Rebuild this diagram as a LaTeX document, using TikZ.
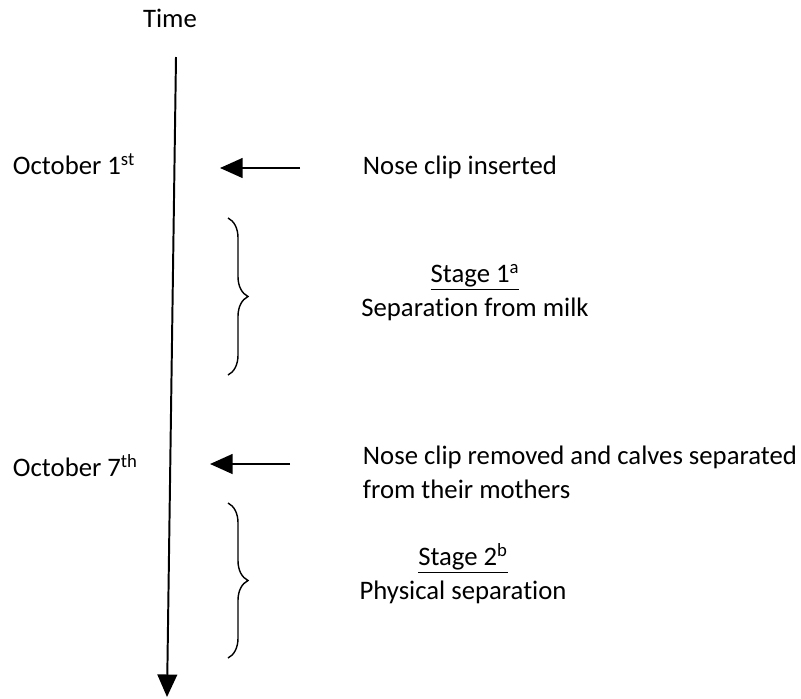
\documentclass[tikz,border=0pt]{standalone}
\usepackage{fontspec}
\setmainfont{Carlito}[Ligatures=NoCommon]
\usetikzlibrary{arrows.meta,positioning,decorations.pathreplacing}

\begin{document}
\begin{tikzpicture}[->,>={Triangle[length=16pt,width=14pt]},x=0.025cm,y=-0.025cm,line width=1.4pt,
    every node/.style={inner sep=0pt,font=\fontsize{19}{23.8}\selectfont},
    brc/.style={-,line width=1pt,decorate,decoration={brace,amplitude=0.5cm}}]
      \useasboundingbox (0,0) rectangle (801,698);
      \node (T) [anchor=base] at (170,27) {Time};
      \node (O1) [anchor=base west] at (12,174) {October 1\textsuperscript{st}};
      \node (O7) [anchor=base west] at (12,476) {October 7\textsuperscript{th}};
      \node (N1) [anchor=base west] at (362,174) {Nose clip inserted};
      \node (N7) [anchor=base west,align=left] at (362,498) {Nose clip removed and calves separated\\from their mothers};
      \node (S1) [anchor=base,align=center] at (475,316) {\underline{Stage 1\textsuperscript{a}}\\Separation from milk};
      \node (S2) [anchor=base,align=center] at (463,599) {\underline{Stage 2\textsuperscript{b}}\\Physical separation};
      \coordinate (A) at (176,57);
      \coordinate (B) at (167,697);
      \coordinate (C1) at (300,168);
      \coordinate (D1) at (220,168);
      \coordinate (C7) at (290,464);
      \coordinate (D7) at (210,464);
      \path (A) edge (B)
      (C1) edge (D1)
      (C7) edge (D7);
      \draw[brc] (228,218) -- (228,375);
      \draw[brc] (228,503) -- (228,658);
    \end{tikzpicture}
\end{document}
